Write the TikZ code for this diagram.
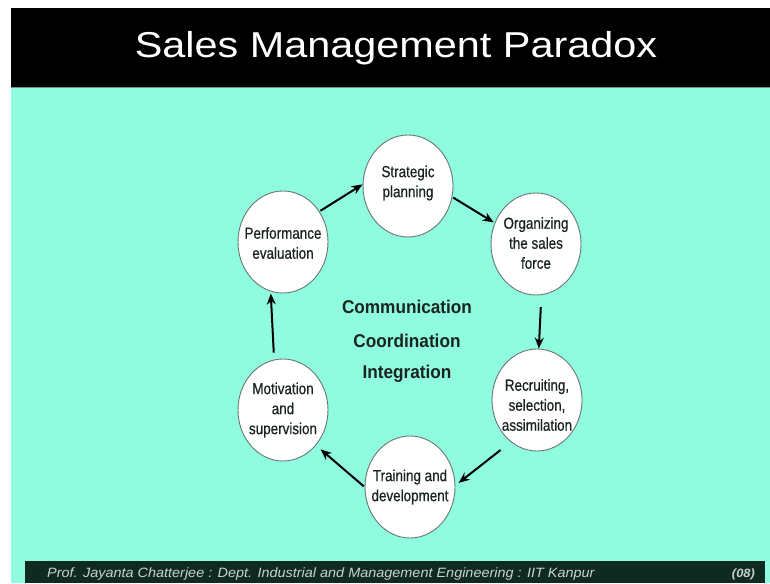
\documentclass[tikz,border=0pt]{standalone}
\usepackage{fontspec}
\setmainfont{Liberation Sans}
\newfontfamily\titlefont[FakeStretch=1.15]{Liberation Sans}
\newfontfamily\circfont[FakeStretch=0.84,FakeBold=0.6]{Liberation Sans}
\newfontfamily\midfont[FakeStretch=0.93]{Liberation Sans}
\newfontfamily\footfont[FakeStretch=1.07]{Liberation Sans}
\usetikzlibrary{shapes.geometric,arrows.meta}
\definecolor{teal}{HTML}{8FFCE0}
\definecolor{footbg}{HTML}{0F2B21}
\definecolor{ringcol}{HTML}{66776F}
\definecolor{txt}{HTML}{1A241F}
\definecolor{foottxt}{HTML}{C9D2CE}
\tikzset{
  ring/.style={ellipse, draw=ringcol, line width=0.9pt, fill=white, minimum width=90pt, minimum height=102pt, inner sep=0pt},
  ringtext/.style={align=center, text=txt, font=\circfont\fontsize{16}{20}\selectfont, inner sep=0pt},
  midtext/.style={anchor=base, text=txt, font=\midfont\bfseries\fontsize{18.5}{22}\selectfont, inner sep=0pt},
  arr/.style={-{Stealth[length=11pt,width=9pt]}, line width=2pt, black}
}
\begin{document}
\begin{tikzpicture}[x=1pt,y=-1pt]
\useasboundingbox (0,0) rectangle (770,583);
\fill[white] (0,0) rectangle (770,583);
\fill[teal] (11,88) rectangle (770,583);
\fill[black] (11,8) rectangle (770,87);
\fill[ringcol!80!teal] (11,87) rectangle (770,88.5);
\fill[footbg] (25,561) rectangle (765,583);

\node[anchor=base, text=white, font=\titlefont\fontsize{36}{40}\selectfont, inner sep=0pt] (title) at (396,58) {Sales Management Paradox};

\node[ring] (strat) at (408,186) {};
\node[ring] (perf) at (283,242) {};
\node[ring] (org) at (536,244) {};
\node[ring] (recr) at (537,400) {};
\node[ring] (train) at (410,487) {};
\node[ring] (motiv) at (283,410) {};

\node[ringtext] (stratT) at (408,183) {Strategic\\planning};
\node[ringtext] (perfT) at (283,243) {Performance\\evaluation};
\node[ringtext] (orgT) at (536,243) {Organizing\\the sales\\force};
\node[ringtext] (recrT) at (537,405) {Recruiting,\\selection,\\assimilation};
\node[ringtext] (trainT) at (410,487) {Training and\\development};
\node[ringtext] (motivT) at (283,410) {Motivation\\and\\supervision};

\node[midtext] (m1) at (407,313) {Communication};
\node[midtext] (m2) at (407,347) {Coordination};
\node[midtext] (m3) at (407,378) {Integration};

\draw[arr, shorten <=1pt] (perf.40) -- (strat.178);
\draw[arr, shorten <=1pt, shorten >=1pt] (strat.-14) -- (org.153);
\draw[arr, shorten <=12pt] (org.-84) -- (recr.88);
\draw[arr, shorten <=13pt, shorten >=4pt] (recr.-122) -- (train.2);
\draw[arr, shorten <=1pt, shorten >=6pt] (train.180) -- (motiv.-47);
\draw[arr, shorten <=7pt, shorten >=2pt] (motiv.100) -- (perf.-104);

\node[anchor=base west, text=foottxt, font=\footfont\itshape\fontsize{13.5}{15}\selectfont, inner sep=0pt] (foot) at (47,577) {Prof. Jayanta Chatterjee : Dept. Industrial and Management Engineering : IIT Kanpur};
\node[anchor=base east, text=foottxt, font=\footfont\bfseries\itshape\fontsize{12}{14}\selectfont, inner sep=0pt] (page) at (755,577) {(08)};
\end{tikzpicture}
\end{document}
